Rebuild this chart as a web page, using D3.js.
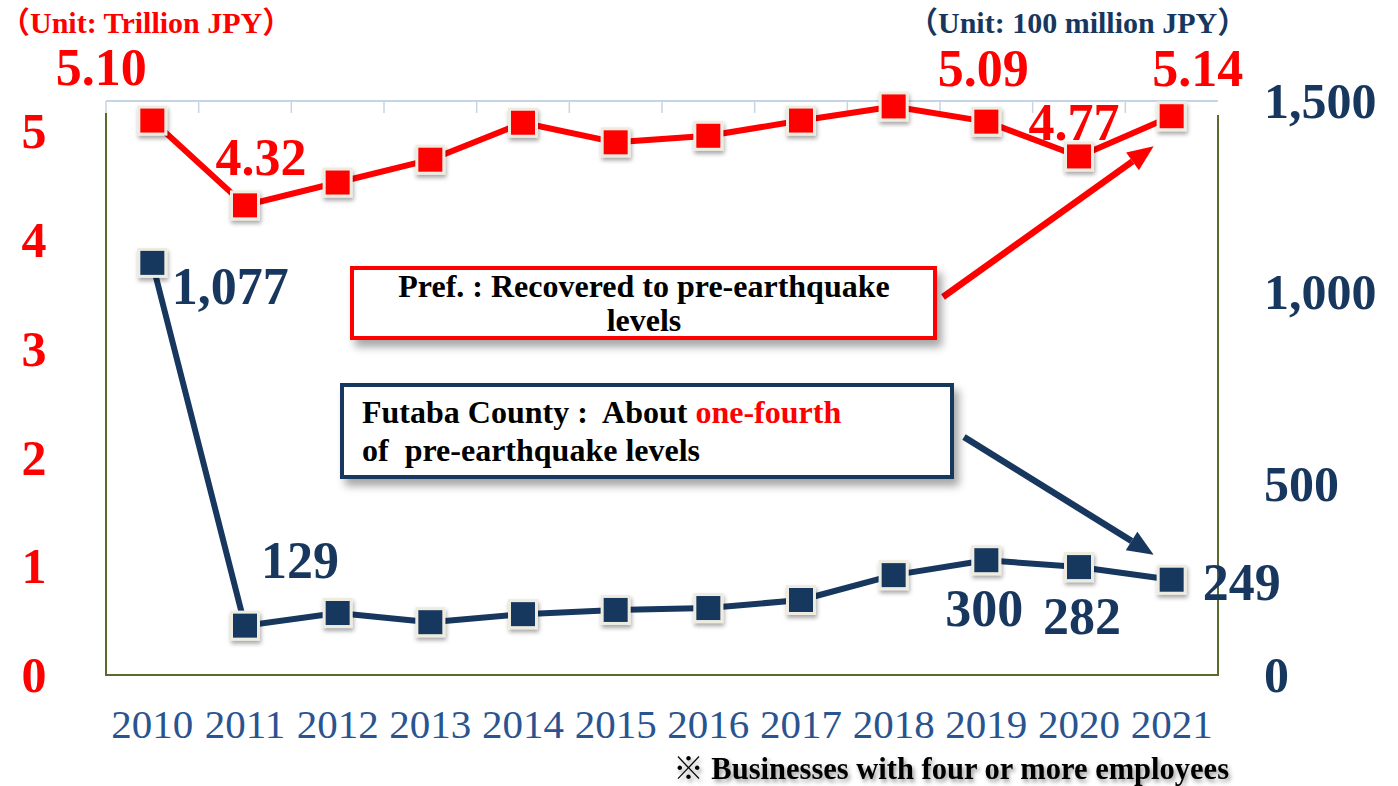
<!DOCTYPE html>
<html>
<head>
<meta charset="utf-8">
<script src="https://cdn.jsdelivr.net/npm/d3@7"></script>
<style>
  html, body { margin: 0; padding: 0; background: #fff; }
  svg { display: block; }
  text { font-family: "Liberation Serif", "Times New Roman", "Noto Sans CJK JP", serif; }
</style>
</head>
<body>
<svg id="chart"></svg>
<script>
// data
const years = ["2010", "2011", "2012", "2013", "2014", "2015", "2016", "2017", "2018", "2019", "2020", "2021"];
const prefValues = [5.10, 4.32, 4.53, 4.74, 5.08, 4.90, 4.96, 5.10, 5.23, 5.09, 4.77, 5.14];
const futabaValues = [1077, 129, 162, 138, 159, 170, 175, 196, 261, 300, 282, 249];
const prefLabelYears = ["2010", "2011", "2019", "2020", "2021"];
const futabaLabelYears = ["2010", "2011", "2019", "2020", "2021"];
const leftTicks = [0, 1, 2, 3, 4, 5];
const rightTicks = [0, 500, 1000, 1500];

const RED = "#ff0000";
const NAVY = "#17375e";

// label offsets relative to their point (px)
const prefLabelOffset = { "2010": [-51, -36], "2011": [16, -30], "2019": [-3, -36], "2020": [-5, -16], "2021": [26, -30] };
const futabaLabelOffset = { "2010": [78, 41], "2011": [55, -48], "2019": [-2, 66], "2020": [3, 67], "2021": [70, 20] };

const W = 1398, H = 786;
const plot = { left: 106, right: 1218, top: 101, bottom: 675 };

const svg = d3.select("#chart").attr("width", W).attr("height", H);

const defs = svg.append("defs");
const fMark = defs.append("filter").attr("id", "markShadow")
  .attr("x", "-40%").attr("y", "-40%").attr("width", "180%").attr("height", "180%");
fMark.append("feDropShadow").attr("dx", 1).attr("dy", 3).attr("stdDeviation", 2)
  .attr("flood-color", "#000").attr("flood-opacity", 0.35);
const fBox = defs.append("filter").attr("id", "boxShadow")
  .attr("x", "-10%").attr("y", "-30%").attr("width", "125%").attr("height", "170%");
fBox.append("feDropShadow").attr("dx", 5).attr("dy", 7).attr("stdDeviation", 4)
  .attr("flood-color", "#000").attr("flood-opacity", 0.35);
const fText = defs.append("filter").attr("id", "textShadow")
  .attr("x", "-5%").attr("y", "-30%").attr("width", "115%").attr("height", "170%");
fText.append("feDropShadow").attr("dx", 2).attr("dy", 3).attr("stdDeviation", 2)
  .attr("flood-color", "#000").attr("flood-opacity", 0.4);

// scales
const x = d3.scaleBand().domain(years).range([plot.left, plot.right]).padding(0);
const cx = (d) => x(d) + x.bandwidth() / 2;
const yL = d3.scaleLinear().domain([0, 5.28]).range([plot.bottom, plot.top]);
const yR = d3.scaleLinear().domain([0, 1500]).range([plot.bottom, plot.top]);

// plot frame
svg.append("line")
  .attr("x1", plot.left).attr("x2", plot.right).attr("y1", plot.top).attr("y2", plot.top)
  .attr("stroke", "#c6d5e6").attr("stroke-width", 2);
svg.append("g").selectAll("line").data(years).join("line")
  .attr("x1", (d) => x(d)).attr("x2", (d) => x(d))
  .attr("y1", plot.top).attr("y2", plot.top + 12)
  .attr("stroke", "#c6d5e6").attr("stroke-width", 1.5);
svg.append("path")
  .attr("d", `M${plot.left},${plot.top + 12}V${plot.bottom}H${plot.right}V${plot.top + 14}`)
  .attr("fill", "none").attr("stroke", "#5b6b2f").attr("stroke-width", 2);

// x labels
svg.append("g").selectAll("text").data(years).join("text")
  .attr("x", (d) => cx(d)).attr("y", 738)
  .attr("text-anchor", "middle").attr("font-size", 41).attr("fill", "#2a5490")
  .text((d) => d);

// left axis labels
svg.append("g").selectAll("text").data(leftTicks).join("text")
  .attr("x", 34).attr("y", (d) => yL(d)).attr("dy", "0.34em")
  .attr("text-anchor", "middle").attr("font-size", 50).attr("font-weight", "bold")
  .attr("fill", RED).text((d) => d);

// right axis labels
svg.append("g").selectAll("text").data(rightTicks).join("text")
  .attr("x", 1264).attr("y", (d) => yR(d)).attr("dy", "0.34em")
  .attr("text-anchor", "start").attr("font-size", 50).attr("font-weight", "bold")
  .attr("fill", NAVY).text((d) => d3.format(",")(d));

// unit labels
svg.append("text").attr("x", 0).attr("y", 33)
  .attr("font-size", 30).attr("font-weight", "bold").attr("fill", RED)
  .text("（Unit: Trillion JPY）");
svg.append("text").attr("x", 908).attr("y", 33)
  .attr("font-size", 30).attr("font-weight", "bold").attr("fill", NAVY)
  .text("（Unit: 100 million JPY）");

// lines
function drawSeries(values, yScale, color) {
  const pts = years.map((d, i) => [cx(d), yScale(values[i])]);
  svg.append("path")
    .attr("d", d3.line()(pts))
    .attr("fill", "none").attr("stroke", color).attr("stroke-width", 6)
    .attr("stroke-linejoin", "round");
  svg.append("g").selectAll("rect").data(pts).join("rect")
    .attr("x", (p) => p[0] - 13.5).attr("y", (p) => p[1] - 13.5)
    .attr("width", 27).attr("height", 27)
    .attr("fill", color).attr("stroke", "#eeece1").attr("stroke-width", 3)
    .attr("filter", "url(#markShadow)");
}
drawSeries(futabaValues, yR, NAVY);
drawSeries(prefValues, yL, RED);

// data labels
svg.append("g").selectAll("text").data(prefLabelYears).join("text")
  .attr("x", (d) => cx(d) + prefLabelOffset[d][0])
  .attr("y", (d) => yL(prefValues[years.indexOf(d)]) + prefLabelOffset[d][1])
  .attr("text-anchor", "middle").attr("font-size", 52).attr("font-weight", "bold")
  .attr("fill", RED)
  .text((d) => d3.format(".2f")(prefValues[years.indexOf(d)]));
svg.append("g").selectAll("text").data(futabaLabelYears).join("text")
  .attr("x", (d) => cx(d) + futabaLabelOffset[d][0])
  .attr("y", (d) => yR(futabaValues[years.indexOf(d)]) + futabaLabelOffset[d][1])
  .attr("text-anchor", "middle").attr("font-size", 52).attr("font-weight", "bold")
  .attr("fill", NAVY)
  .text((d) => d3.format(",")(futabaValues[years.indexOf(d)]));

// arrows
function arrow(x1, y1, x2, y2, color) {
  const ang = Math.atan2(y2 - y1, x2 - x1);
  const len = 26, half = 11;
  const bx = x2 - len * Math.cos(ang), by = y2 - len * Math.sin(ang);
  svg.append("line")
    .attr("x1", x1).attr("y1", y1).attr("x2", bx).attr("y2", by)
    .attr("stroke", color).attr("stroke-width", 6.5);
  const px = -Math.sin(ang), py = Math.cos(ang);
  svg.append("path")
    .attr("d", `M${x2},${y2}L${bx + px * half},${by + py * half}L${bx - px * half},${by - py * half}Z`)
    .attr("fill", color);
}
arrow(943, 297, cx("2021") - 18, yL(5.14) + 30, RED);
arrow(964, 437, cx("2021") - 18, yR(249) - 25, NAVY);

// annotation boxes
svg.append("rect").attr("x", 352).attr("y", 268).attr("width", 583).attr("height", 70)
  .attr("fill", "#fff").attr("stroke", RED).attr("stroke-width", 4)
  .attr("filter", "url(#boxShadow)");
const t1 = svg.append("text").attr("text-anchor", "middle")
  .attr("font-size", 32).attr("font-weight", "bold").attr("fill", "#000");
t1.append("tspan").attr("x", 644).attr("y", 297).text("Pref. : Recovered to pre-earthquake");
t1.append("tspan").attr("x", 644).attr("y", 331).text("levels");

svg.append("rect").attr("x", 342).attr("y", 385).attr("width", 610).attr("height", 92)
  .attr("fill", "#fff").attr("stroke", NAVY).attr("stroke-width", 4)
  .attr("filter", "url(#boxShadow)");
const t2 = svg.append("text").attr("font-size", 32).attr("font-weight", "bold").attr("fill", "#000")
  .attr("xml:space", "preserve").style("white-space", "pre");
t2.append("tspan").attr("x", 362).attr("y", 423).text("Futaba County :  About ");
t2.append("tspan").attr("fill", RED).text("one-fourth");
t2.append("tspan").attr("x", 362).attr("y", 461).text("of  pre-earthquake levels");

// footnote
svg.append("text").attr("x", 1229).attr("y", 779).attr("text-anchor", "end")
  .attr("font-size", 30.5).attr("font-weight", "bold").attr("fill", "#000")
  .attr("filter", "url(#textShadow)")
  .text("※ Businesses with four or more employees");
</script>
</body>
</html>
